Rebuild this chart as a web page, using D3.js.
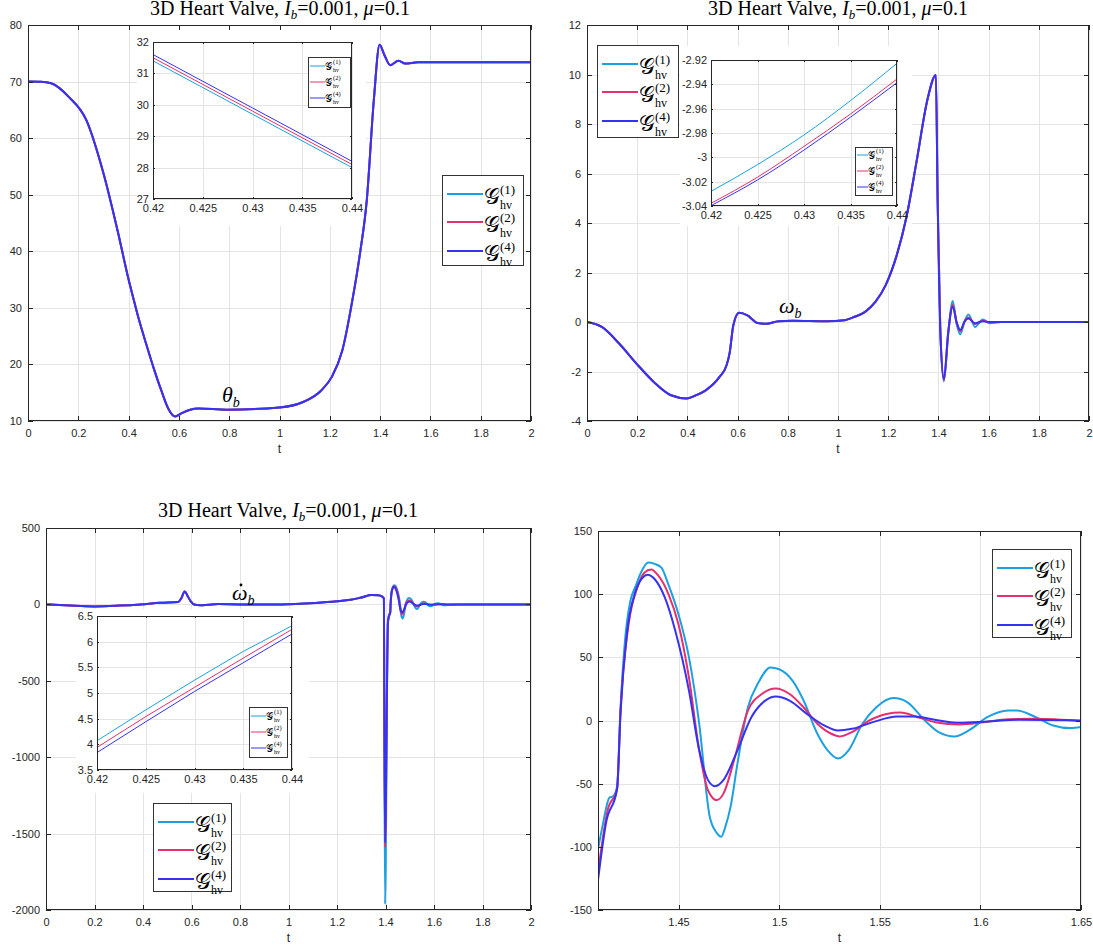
<!DOCTYPE html>
<html><head><meta charset="utf-8">
<script src="https://cdn.jsdelivr.net/npm/d3@7"></script>
<style>body{margin:0;background:#fff}svg{display:block}</style>
</head><body>
<svg id="c" width="1093" height="951"></svg>
<script>
// ================= DATA =================
const seriesSup = ["(1)", "(2)", "(4)"];
const seriesColors = ["#1ba1e2", "#e6306e", "#3632f2"];

// theta_b (all three discretisations coincide at this scale)
const thetaT = [0, 0.05, 0.092, 0.162, 0.232, 0.30, 0.357, 0.40, 0.42, 0.44, 0.47, 0.50, 0.53, 0.56, 0.585, 0.608, 0.645, 0.678, 0.79, 1.0, 1.096, 1.166, 1.208, 1.25, 1.29, 1.32, 1.347, 1.375, 1.398, 1.417, 1.44, 1.473, 1.50, 1.55, 2.0];
const thetaV = [70, 69.95, 69.7, 67.3, 63.2, 53.8, 43.5, 35.0, 31.5, 28.1, 23.6, 19.3, 15.4, 12.0, 10.8, 11.3, 12.0, 12.2, 12.0, 12.4, 13.4, 15.4, 17.8, 22.5, 31.4, 39.6, 49.0, 66.7, 76.5, 74.7, 72.9, 73.7, 73.2, 73.4, 73.4];

// omega_b
const omegaT = [0, 0.059, 0.128, 0.197, 0.266, 0.335, 0.397, 0.43, 0.473, 0.528, 0.556, 0.568, 0.583, 0.606, 0.639, 0.68, 0.714, 0.763, 0.818, 0.956, 1.025, 1.066, 1.108, 1.149, 1.19, 1.232, 1.273, 1.314, 1.356, 1.39,
                1.397, 1.408, 1.422, 1.439, 1.457, 1.473, 1.487, 1.505, 1.52, 1.546, 1.577, 1.604, 1.65, 2.0];
const omegaHead = [0, -0.2, -0.87, -1.68, -2.42, -2.96, -3.09, -2.98, -2.76, -2.22, -1.75, -1.27, -0.13, 0.37, 0.27, -0.04, -0.07, 0.03, 0.05, 0.03, 0.07, 0.21, 0.41, 0.81, 1.49, 2.63, 4.25, 6.54, 8.97, 9.98];
const omegaTail1 = [4.9, -0.5, -2.4, -0.5, 0.85, -0.1, -0.5, 0.05, 0.3, -0.2, 0.1, -0.05, 0, 0];
const omegaTail2 = [4.9, -0.48, -2.35, -0.45, 0.7, -0.05, -0.38, 0.03, 0.18, -0.08, 0.05, -0.02, 0, 0];
const omegaTail4 = [4.9, -0.45, -2.3, -0.42, 0.62, -0.02, -0.32, 0.03, 0.14, -0.05, 0.03, 0, 0, 0];

// omega-dot_b : early part (shared), spike minimum, zoomed window, tail
const dwPreT = [0, 0.1, 0.2, 0.3, 0.39, 0.47, 0.545, 0.558, 0.572, 0.584, 0.597, 0.614, 0.635, 0.67, 0.71, 0.8, 0.97, 1.11, 1.2, 1.256, 1.3, 1.343, 1.37, 1.385, 1.393];
const dwPreV = [0, -8, -13, -8, 0, 10, 15, 40, 85, 55, 20, -3, -6, -2, 2, 0, 0, 9, 20, 30, 45, 61, 60, 52, 40];
const dwSpikeT = 1.398;
const dwSpikeV = [-1963, -1590, -1560];
const dwTailT = [1.7, 2.0];
const dwTailV = [0, 0];

// zoom window t in [1.41, 1.65]
const z1T = [1.41, 1.4122, 1.4157, 1.4175, 1.4195, 1.4212, 1.4234, 1.426, 1.4286, 1.4316, 1.435, 1.4381, 1.4415, 1.445, 1.45, 1.4552, 1.4603, 1.4655, 1.469, 1.4712, 1.4733, 1.4759, 1.4793, 1.4845, 1.4897, 1.4957, 1.5, 1.5069, 1.5121, 1.519, 1.5241, 1.5293, 1.5345, 1.5414, 1.5483, 1.5569, 1.5638, 1.5724, 1.5793, 1.5871, 1.5948, 1.6034, 1.6138, 1.6181, 1.6276, 1.6362, 1.6448, 1.65];
const z1V = [-102, -84, -61, -60, -52, 10, 63, 94, 106, 118, 125, 124, 121, 107.5, 84, 50, -2.6, -76, -89, -92, -84, -68, -34, 10.5, 30, 42, 40.6, 31, 16, -10.5, -23.6, -30, -23.6, -2.6, 10.5, 17.8, 14.4, 0, -9.2, -12.6, -7.3, 2.6, 7.9, 7.9, 2.6, -3.9, -6.0, -5.2];
const z2T = [1.41, 1.4148, 1.4195, 1.4212, 1.4252, 1.4295, 1.433, 1.4364, 1.4398, 1.445, 1.45, 1.4552, 1.4603, 1.4646, 1.469, 1.4724, 1.4776, 1.4845, 1.4914, 1.4983, 1.5052, 1.5121, 1.519, 1.5259, 1.5302, 1.5362, 1.5448, 1.5534, 1.5603, 1.569, 1.5776, 1.5897, 1.6017, 1.6138, 1.6276, 1.65];
const z2V = [-120.6, -71, -54, 8, 76, 105, 117, 119.5, 115, 100, 76, 34, -23.6, -55, -63, -57.7, -31.5, 7.9, 21, 25.4, 21, 10.5, -2.6, -10.5, -12.6, -9.2, 0, 5.2, 6.3, 2.6, -1.3, -3.1, -1.3, 1, 1.3, -0.5];
const z4T = [1.41, 1.414, 1.4195, 1.4212, 1.4243, 1.4286, 1.4321, 1.4347, 1.4381, 1.4433, 1.4484, 1.4552, 1.4603, 1.4646, 1.4681, 1.4724, 1.4793, 1.4862, 1.4931, 1.4983, 1.5052, 1.5138, 1.5224, 1.5293, 1.5362, 1.5466, 1.5586, 1.5672, 1.5793, 1.5897, 1.6034, 1.619, 1.65];
const z4V = [-126.4, -81, -54, 6, 68, 102, 113, 115.4, 112, 97, 71, 23.6, -23.6, -47, -52, -47, -23.6, 2.6, 15.7, 18.9, 15.7, 5.2, -3.9, -7.9, -6.6, -1.3, 3.1, 3.1, 0, -1.8, -0.8, 0.5, 0];

// insets (t in [0.42, 0.44])
const in1T = [0.42, 0.43, 0.44];
const in1V = [[31.4, 29.7, 28.0], [31.5, 29.8, 28.1], [31.6, 29.9, 28.2]];
const in2T = [0.42, 0.425, 0.43, 0.435, 0.44];
const in2V = [[-3.028, -3.006, -2.9816, -2.9534, -2.9227], [-3.0378, -3.0163, -2.991, -2.9644, -2.9356], [-3.0397, -3.0186, -2.994, -2.967, -2.9386]];
const in3T = [0.42, 0.425, 0.43, 0.435, 0.44];
const in3V = [[4.07, 4.67, 5.25, 5.81, 6.31], [3.94, 4.54, 5.11, 5.68, 6.24], [3.84, 4.44, 5.03, 5.59, 6.15]];

// ticks
const tTicks = [0, 0.2, 0.4, 0.6, 0.8, 1, 1.2, 1.4, 1.6, 1.8, 2];
const thetaTicks = [10, 20, 30, 40, 50, 60, 70, 80];
const omegaTicks = [-4, -2, 0, 2, 4, 6, 8, 10, 12];
const dwTicks = [-2000, -1500, -1000, -500, 0, 500];
const zoomTTicks = [1.45, 1.5, 1.55, 1.6, 1.65];
const zoomYTicks = [-150, -100, -50, 0, 50, 100, 150];
const inTTicks = [0.42, 0.425, 0.43, 0.435, 0.44];
const in1YTicks = [27, 28, 29, 30, 31, 32];
const in2YTicks = [-3.04, -3.02, -3, -2.98, -2.96, -2.94, -2.92];
const in3YTicks = [3.5, 4, 4.5, 5, 5.5, 6, 6.5];

// ================= DRAWING =================
const svg = d3.select("#c");
const SANS = "'Liberation Sans', Arial, Helvetica, sans-serif";
const SERIF = "'Liberation Serif', 'DejaVu Serif', serif";
const TXT = "#262626";
const fmt = d => String(+(+d).toFixed(4));
const zip = (T, V) => T.map((t, i) => [t, V[i]]);
let clipN = 0;

function axes(o) {
  const x = d3.scaleLinear().domain(o.xDomain).range([o.left, o.right]);
  const y = d3.scaleLinear().domain(o.yDomain).range([o.bottom, o.top]);
  const g = svg.append("g");
  g.append("rect").attr("x", o.left).attr("y", o.top).attr("width", o.right - o.left).attr("height", o.bottom - o.top).attr("fill", "#fff");
  const gg = g.append("g").attr("stroke", "#e4e4e4").attr("stroke-width", 1).attr("shape-rendering", "crispEdges");
  gg.selectAll(".vx").data(o.xTicks).join("line").attr("x1", d => Math.round(x(d)) + 0.5).attr("x2", d => Math.round(x(d)) + 0.5).attr("y1", o.top).attr("y2", o.bottom);
  gg.selectAll(".hy").data(o.yTicks).join("line").attr("y1", d => Math.round(y(d)) + 0.5).attr("y2", d => Math.round(y(d)) + 0.5).attr("x1", o.left).attr("x2", o.right);
  return { g, x, y, o };
}

function drawLines(A, series, lw, curve) {
  const id = "clip" + (clipN++);
  A.g.append("clipPath").attr("id", id).append("rect").attr("x", A.o.left).attr("y", A.o.top).attr("width", A.o.right - A.o.left).attr("height", A.o.bottom - A.o.top);
  const line = d3.line().x(d => A.x(d[0])).y(d => A.y(d[1])).curve(curve || d3.curveMonotoneX);
  const lg = A.g.append("g").attr("clip-path", `url(#${id})`);
  series.forEach((s, i) => {
    lg.append("path").attr("d", line(s)).attr("fill", "none").attr("stroke", seriesColors[i]).attr("stroke-width", lw).attr("stroke-linejoin", "round");
  });
}

function frame(A, tl, fs, xPad, yPad) {
  const o = A.o, g = A.g;
  const add = (gen, tr) => {
    const a = g.append("g").attr("transform", tr).call(gen);
    a.select(".domain").remove();
    a.attr("font-family", SANS).attr("font-size", fs);
    a.selectAll("line").attr("stroke", TXT).attr("shape-rendering", "crispEdges");
    a.selectAll("text").attr("fill", TXT);
  };
  add(d3.axisBottom(A.x).tickValues(o.xTicks).tickFormat(fmt).tickSize(-tl).tickPadding(xPad), `translate(0,${o.bottom})`);
  add(d3.axisTop(A.x).tickValues(o.xTicks).tickFormat("").tickSize(-tl), `translate(0,${o.top})`);
  add(d3.axisLeft(A.y).tickValues(o.yTicks).tickFormat(fmt).tickSize(-tl).tickPadding(yPad), `translate(${o.left},0)`);
  add(d3.axisRight(A.y).tickValues(o.yTicks).tickFormat("").tickSize(-tl), `translate(${o.right},0)`);
  g.append("rect").attr("x", o.left + 0.5).attr("y", o.top + 0.5).attr("width", o.right - o.left - 1).attr("height", o.bottom - o.top - 1)
    .attr("fill", "none").attr("stroke", TXT).attr("stroke-width", 1).attr("shape-rendering", "crispEdges");
}

function xlabel(A, dy) {
  A.g.append("text").attr("x", (A.o.left + A.o.right) / 2).attr("y", A.o.bottom + dy).attr("text-anchor", "middle")
    .attr("font-family", SANS).attr("font-size", 12).attr("fill", TXT).text("t");
}

function title(cx, y) {
  const t = svg.append("text").attr("x", cx).attr("y", y).attr("text-anchor", "middle").attr("font-family", SERIF).attr("font-size", 20).attr("fill", "#000");
  t.append("tspan").text("3D Heart Valve, ");
  t.append("tspan").attr("font-style", "italic").text("I");
  t.append("tspan").attr("font-style", "italic").attr("font-size", 13).attr("dy", 4).text("b");
  t.append("tspan").attr("dy", -4).text("=0.001, ");
  t.append("tspan").attr("font-style", "italic").text("μ");
  t.append("tspan").text("=0.1");
}

function mathLabel(x, y, sym, sub, dot) {
  const t = svg.append("text").attr("x", x).attr("y", y).attr("font-family", SERIF).attr("font-style", "italic").attr("font-size", 22).attr("fill", "#000");
  t.append("tspan").text(sym);
  t.append("tspan").attr("font-size", 14).attr("dy", 5).text(sub);
  if (dot) svg.append("circle").attr("cx", x + dot[0]).attr("cy", y + dot[1]).attr("r", 1.4).attr("fill", "#000");
}

function legend(x0, y0, w, h, L) {
  const g = svg.append("g");
  g.append("rect").attr("x", x0 + 0.5).attr("y", y0 + 0.5).attr("width", w).attr("height", h).attr("fill", "#fff").attr("stroke", "#333").attr("stroke-width", 1).attr("shape-rendering", "crispEdges");
  seriesSup.forEach((s, i) => {
    const yy = y0 + L.rows[i];
    g.append("line").attr("x1", x0 + L.lx1).attr("x2", x0 + L.lx2).attr("y1", yy).attr("y2", yy).attr("stroke", seriesColors[i]).attr("stroke-width", L.lw);
    g.append("text").attr("x", x0 + L.gx).attr("y", yy + L.gdy).attr("font-family", SERIF).attr("font-size", L.gs).attr("fill", "#000").text("𝒢");
    g.append("text").attr("x", x0 + L.sx).attr("y", yy + L.supdy).attr("font-family", SERIF).attr("font-size", L.ss).attr("fill", "#000").text(s);
    g.append("text").attr("x", x0 + L.sx).attr("y", yy + L.subdy).attr("font-family", SERIF).attr("font-size", L.bs).attr("fill", "#000").text("hv");
  });
}
const bigLeg = { rows: [19, 47, 76], lx1: 5, lx2: 41, lw: 2, gx: 42, gdy: 10, gs: 22, sx: 58, supdy: 0, ss: 13, subdy: 15, bs: 12 };
const smallLeg = { rows: [9, 25, 41], lx1: 2, lx2: 17, lw: 1, gx: 17, gdy: 4, gs: 10, sx: 25, supdy: -2, ss: 6.5, subdy: 6, bs: 6 };

// ---------- Panel 1 : theta_b ----------
{
  const A = axes({ left: 28, right: 531, top: 25, bottom: 421, xDomain: [0, 2], yDomain: [10, 80], xTicks: tTicks, yTicks: thetaTicks });
  A.g.append("rect").attr("x", 137).attr("y", 26).attr("width", 229).attr("height", 200).attr("fill", "#fff");
  drawLines(A, [0, 1, 2].map(() => zip(thetaT, thetaV)), 2);
  frame(A, 5, 11, 8, 6);
  xlabel(A, 32);
  title(280, 15);
  mathLabel(222, 402, "θ", "b");
  legend(442, 175, 81, 90, bigLeg);
  const I = axes({ left: 153, right: 352, top: 42, bottom: 199, xDomain: [0.42, 0.44], yDomain: [27, 32], xTicks: inTTicks, yTicks: in1YTicks });
  drawLines(I, in1V.map(v => zip(in1T, v)), 1, d3.curveLinear);
  frame(I, 2, 11, 5, 4);
  legend(308, 57, 42, 50, smallLeg);
}

// ---------- Panel 2 : omega_b ----------
{
  const A = axes({ left: 587, right: 1089, top: 25, bottom: 421, xDomain: [0, 2], yDomain: [-4, 12], xTicks: tTicks, yTicks: omegaTicks });
  A.g.append("rect").attr("x", 680).attr("y", 46).attr("width", 232).attr("height", 180).attr("fill", "#fff");
  const tails = [omegaTail1, omegaTail2, omegaTail4];
  drawLines(A, tails.map(tl => zip(omegaT, omegaHead.concat(tl))), 2);
  frame(A, 5, 11, 8, 6);
  xlabel(A, 32);
  title(838, 15);
  mathLabel(779, 313, "ω", "b");
  legend(597, 45, 81, 92, bigLeg);
  const I = axes({ left: 711, right: 897, top: 60, bottom: 206, xDomain: [0.42, 0.44], yDomain: [-3.04, -2.92], xTicks: inTTicks, yTicks: in2YTicks });
  drawLines(I, in2V.map(v => zip(in2T, v)), 1, d3.curveMonotoneX);
  frame(I, 2, 11, 5, 4);
  legend(855, 147, 37, 48, Object.assign({}, smallLeg, { rows: [8, 24, 40], lx1: 2, lx2: 13, gx: 13, sx: 21 }));
}

// ---------- Panel 3 : omega-dot_b ----------
{
  const A = axes({ left: 46, right: 531, top: 528, bottom: 910, xDomain: [0, 2], yDomain: [-2000, 500], xTicks: tTicks, yTicks: dwTicks });
  A.g.append("rect").attr("x", 76).attr("y", 609).attr("width", 233).attr("height", 184).attr("fill", "#fff");
  const zooms = [zip(z1T, z1V), zip(z2T, z2V), zip(z4T, z4V)];
  const full = zooms.map((z, i) => zip(dwPreT, dwPreV).concat([[dwSpikeT, dwSpikeV[i]]], z, zip(dwTailT, dwTailV)));
  drawLines(A, full, 2);
  frame(A, 5, 11, 8, 6);
  xlabel(A, 32);
  title(288, 517);
  mathLabel(232, 600, "ω", "b", [9, -15]);
  legend(153, 803, 78, 88, bigLeg);
  const I = axes({ left: 97, right: 292, top: 616, bottom: 770, xDomain: [0.42, 0.44], yDomain: [3.5, 6.5], xTicks: inTTicks, yTicks: in3YTicks });
  drawLines(I, in3V.map(v => zip(in3T, v)), 1, d3.curveLinear);
  frame(I, 2, 11, 5, 4);
  legend(249, 707, 38, 50, smallLeg);
}

// ---------- Panel 4 : omega-dot_b zoom ----------
{
  const A = axes({ left: 598, right: 1081, top: 531, bottom: 910, xDomain: [1.41, 1.65], yDomain: [-150, 150], xTicks: zoomTTicks, yTicks: zoomYTicks });
  drawLines(A, [zip(z1T, z1V), zip(z2T, z2V), zip(z4T, z4V)], 2);
  frame(A, 5, 11, 8, 6);
  xlabel(A, 32);
  legend(992, 549, 79, 88, bigLeg);
}
</script>
</body></html>
